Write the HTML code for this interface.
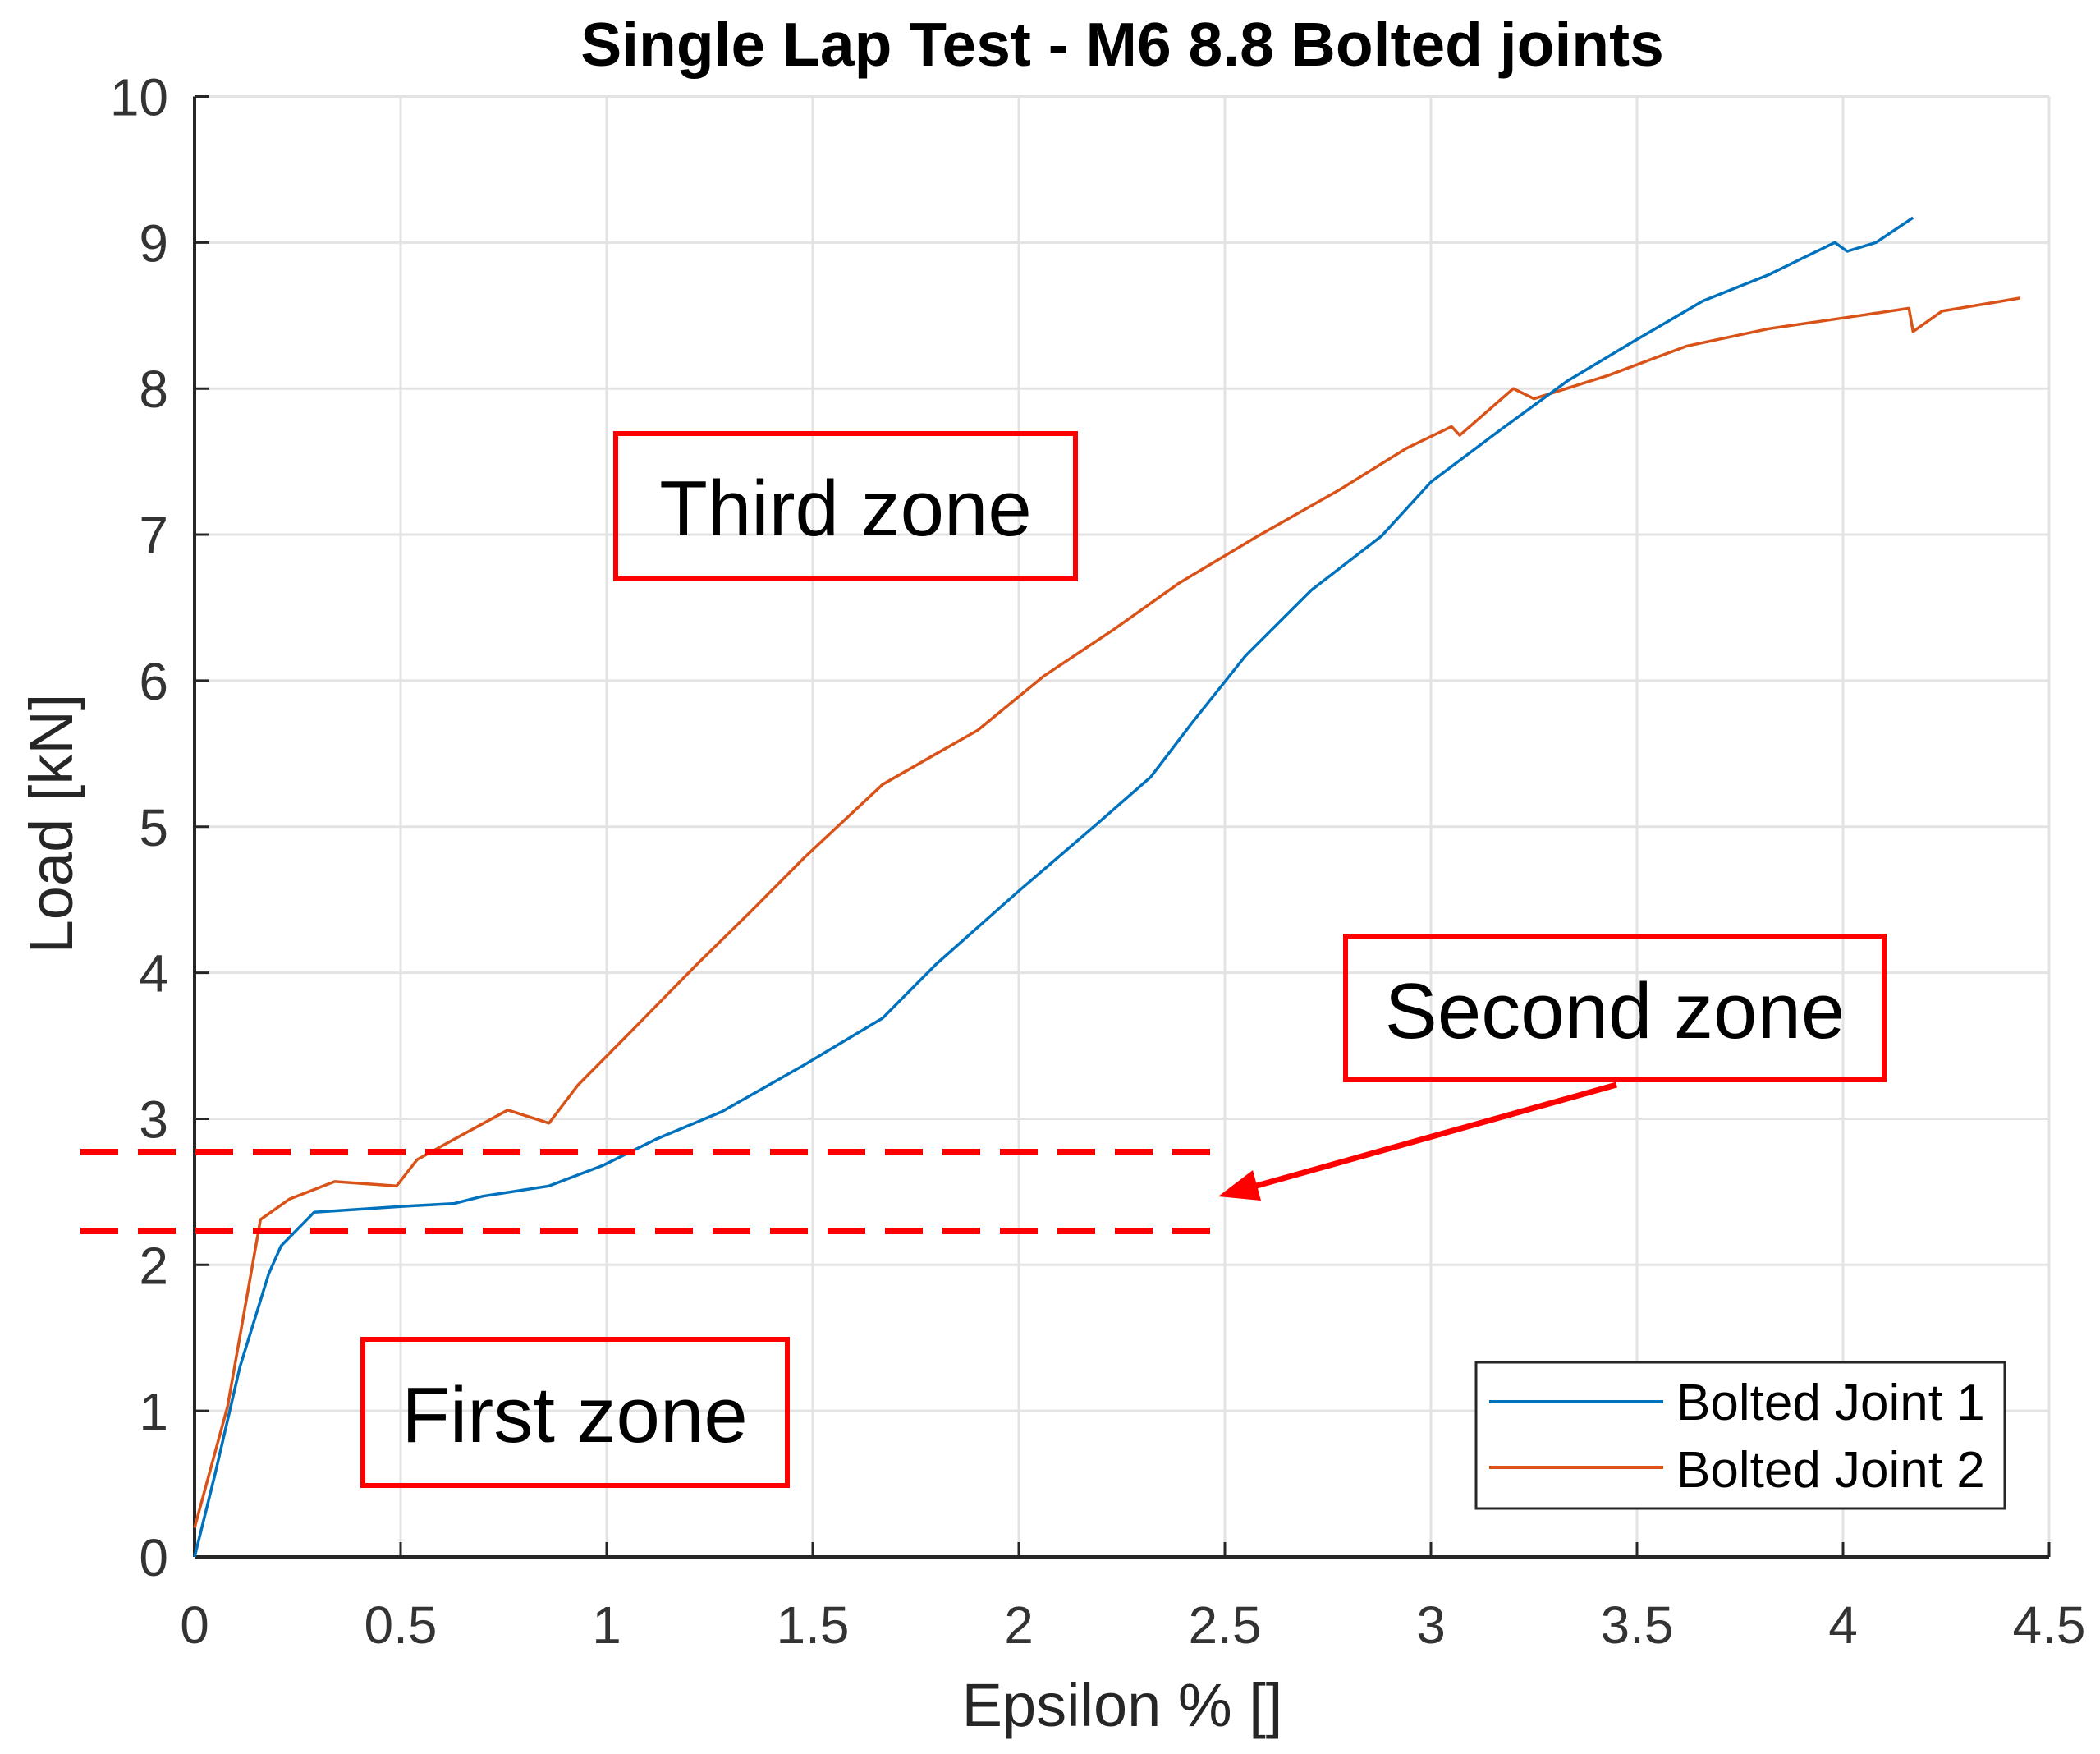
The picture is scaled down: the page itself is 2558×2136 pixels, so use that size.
<!DOCTYPE html>
<html><head><meta charset="utf-8"><style>
html,body{margin:0;padding:0;background:#fff}
svg{display:block}
</style></head><body>
<svg id="chart" width="2558" height="2136" viewBox="0 0 2558 2136" xmlns="http://www.w3.org/2000/svg">
<g id="grid"></g>
<g id="axes"></g>
<g id="series"></g>
<text x="1367" y="80" text-anchor="middle" font-family="Liberation Sans, sans-serif" font-weight="bold" font-size="75" fill="#000">Single Lap Test - M6 8.8 Bolted joints</text>
<text transform="translate(88,1003) rotate(-90)" text-anchor="middle" font-family="Liberation Sans, sans-serif" font-size="74" fill="#262626">Load [kN]</text>
<text x="1367" y="2102" text-anchor="middle" font-family="Liberation Sans, sans-serif" font-size="74" fill="#262626">Epsilon % []</text>
<g font-family="Liberation Sans, sans-serif" font-size="96" fill="#000">
<rect x="750" y="528" width="560" height="177" fill="none" stroke="#f00" stroke-width="6"/>
<text x="1030" y="652" text-anchor="middle">Third zone</text>
<rect x="1639" y="1140" width="656" height="175" fill="none" stroke="#f00" stroke-width="6"/>
<text x="1967" y="1264" text-anchor="middle">Second zone</text>
<rect x="442" y="1631" width="517" height="178" fill="none" stroke="#f00" stroke-width="6"/>
<text x="700" y="1756" text-anchor="middle">First zone</text>
<line x1="98" y1="1403" x2="1484" y2="1403" stroke="#f00" stroke-width="8" stroke-dasharray="46,24"/>
<line x1="98" y1="1499" x2="1484" y2="1499" stroke="#f00" stroke-width="8" stroke-dasharray="46,24"/>
<line x1="1969" y1="1321" x2="1520" y2="1447" stroke="#f00" stroke-width="7"/>
<polygon points="1484,1457 1526,1425 1536,1462" fill="#f00"/>
</g>
<g>
<rect x="1798" y="1659" width="644" height="178" fill="#fff" stroke="#262626" stroke-width="3"/>
<line x1="1814" y1="1707" x2="2026" y2="1707" stroke="#0072BD" stroke-width="4"/>
<text x="2042" y="1729" font-family="Liberation Sans, sans-serif" font-size="62" fill="#000">Bolted Joint 1</text>
<line x1="1814" y1="1787" x2="2026" y2="1787" stroke="#D95319" stroke-width="4"/>
<text x="2042" y="1811" font-family="Liberation Sans, sans-serif" font-size="62" fill="#000">Bolted Joint 2</text>
</g>
</svg>
<script>
const xTicks = [0, 0.5, 1, 1.5, 2, 2.5, 3, 3.5, 4, 4.5];
const xTickLabels = ["0", "0.5", "1", "1.5", "2", "2.5", "3", "3.5", "4", "4.5"];
const yTicks = [0, 1, 2, 3, 4, 5, 6, 7, 8, 9, 10];
const yTickLabels = ["0", "1", "2", "3", "4", "5", "6", "7", "8", "9", "10"];
const joint1X = [0, 0.05, 0.11, 0.18, 0.21, 0.29, 0.5, 0.63, 0.7, 0.86, 0.99, 1.12, 1.28, 1.48, 1.67, 1.8, 2.0, 2.19, 2.32, 2.42, 2.55, 2.71, 2.88, 3.0, 3.17, 3.33, 3.49, 3.66, 3.82, 3.98, 4.01, 4.08, 4.17];
const joint1Y = [0, 0.57, 1.3, 1.94, 2.13, 2.36, 2.4, 2.42, 2.47, 2.54, 2.68, 2.86, 3.05, 3.37, 3.69, 4.06, 4.56, 5.02, 5.34, 5.71, 6.17, 6.62, 6.99, 7.36, 7.72, 8.05, 8.32, 8.6, 8.78, 9.0, 8.94, 9.0, 9.17];
const joint2X = [0, 0.08, 0.16, 0.23, 0.34, 0.49, 0.54, 0.63, 0.76, 0.86, 0.93, 1.06, 1.22, 1.35, 1.48, 1.67, 1.8, 1.9, 2.06, 2.23, 2.39, 2.58, 2.78, 2.94, 3.05, 3.07, 3.2, 3.25, 3.43, 3.62, 3.82, 4.04, 4.16, 4.17, 4.24, 4.43];
const joint2Y = [0.2, 1.03, 2.31, 2.45, 2.57, 2.54, 2.72, 2.86, 3.06, 2.97, 3.23, 3.6, 4.06, 4.42, 4.79, 5.29, 5.5, 5.66, 6.03, 6.35, 6.67, 6.99, 7.31, 7.59, 7.74, 7.68, 8.0, 7.93, 8.09, 8.29, 8.41, 8.5, 8.55, 8.39, 8.53, 8.62];

const L = 237, R = 2496, T = 117.5, B = 1896;
function sx(v){ return L + (v - 0) / 4.5 * (R - L); }
function sy(v){ return B - (v - 0) / 10 * (B - T); }
const NS = "http://www.w3.org/2000/svg";
function mk(tag, attrs, parent){
  const e = document.createElementNS(NS, tag);
  for (const k in attrs) e.setAttribute(k, attrs[k]);
  parent.appendChild(e);
  return e;
}
const grid = document.getElementById('grid');
const axes = document.getElementById('axes');
const series = document.getElementById('series');

xTicks.forEach((t, i) => {
  const g = mk('line', {x1: sx(t), x2: sx(t), y1: T, y2: B, stroke: '#e3e3e3', 'stroke-width': 3}, grid);
  
  
  const tk = mk('line', {x1: sx(t), x2: sx(t), y1: B, y2: B - 18, stroke: '#262626', 'stroke-width': 3}, axes);
  
  
  const lb = mk('text', {x: sx(t), y: B + 105, 'text-anchor': 'middle', 'font-family': 'Liberation Sans, sans-serif', 'font-size': 64, fill: '#333'}, axes);
  lb.textContent = xTickLabels[i];
  
  
});
yTicks.forEach((t, i) => {
  const g = mk('line', {x1: L, x2: R, y1: sy(t), y2: sy(t), stroke: '#e3e3e3', 'stroke-width': 3}, grid);
  
  
  const tk = mk('line', {x1: L, x2: L + 18, y1: sy(t), y2: sy(t), stroke: '#262626', 'stroke-width': 3}, axes);
  
  
  const lb = mk('text', {x: 205, y: sy(t) + 23, 'text-anchor': 'end', 'font-family': 'Liberation Sans, sans-serif', 'font-size': 64, fill: '#333'}, axes);
  lb.textContent = yTickLabels[i];
  
  
});
const xa = mk('line', {x1: L, x2: R, y1: B, y2: B, stroke: '#262626', 'stroke-width': 4}, axes);


const ya = mk('line', {x1: L, x2: L, y1: T, y2: B, stroke: '#262626', 'stroke-width': 4}, axes);



function drawSeries(xs, ys, color, name){
  const pts = xs.map((x, i) => sx(x).toFixed(1) + ',' + sy(ys[i]).toFixed(1)).join(' ');
  const p = mk('polyline', {points: pts, fill: 'none', stroke: color, 'stroke-width': 3.5, 'stroke-linejoin': 'round'}, series);
  
  
}
drawSeries(joint2X, joint2Y, '#D95319', 'bolted-joint-2-line');
drawSeries(joint1X, joint1Y, '#0072BD', 'bolted-joint-1-line');
</script>
</body></html>
